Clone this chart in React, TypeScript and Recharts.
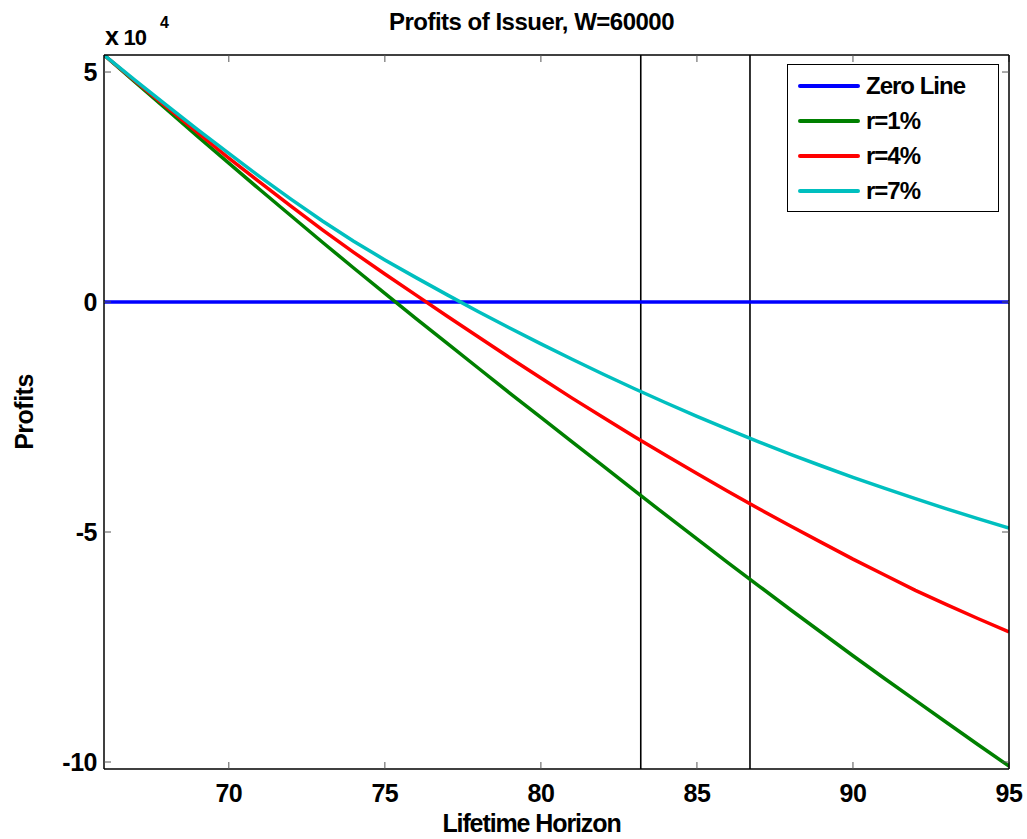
import { LineChart, Line, XAxis, YAxis, ReferenceLine, Legend, Label } from "recharts";

// lifetime horizon (years)
const years = [66, 67, 68, 69, 70, 71, 72, 73, 74, 75, 76, 77, 78, 79, 80, 81, 82, 83, 84, 85, 86, 87, 88, 89, 90, 91, 92, 93, 94, 95];

// profits in units of 10^4
const r1 = [5.37, 4.78, 4.19, 3.6, 3.02, 2.44, 1.87, 1.3, 0.74, 0.19, -0.36, -0.9, -1.44, -1.98, -2.51, -3.04, -3.57, -4.1, -4.63, -5.15, -5.67, -6.18, -6.69, -7.19, -7.69, -8.18, -8.66, -9.14, -9.62, -10.09];
const r4 = [5.37, 4.8, 4.24, 3.68, 3.13, 2.6, 2.08, 1.57, 1.08, 0.61, 0.15, -0.31, -0.76, -1.21, -1.65, -2.09, -2.51, -2.93, -3.33, -3.73, -4.12, -4.5, -4.87, -5.23, -5.59, -5.93, -6.27, -6.58, -6.88, -7.17];
const r7 = [5.37, 4.82, 4.28, 3.75, 3.23, 2.72, 2.23, 1.76, 1.32, 0.915, 0.53, 0.155, -0.21, -0.565, -0.91, -1.245, -1.57, -1.885, -2.19, -2.485, -2.77, -3.045, -3.31, -3.565, -3.81, -4.047, -4.276, -4.497, -4.71, -4.916];

const xTicks = [70, 75, 80, 85, 90, 95];
const yTicks = [-100000, -50000, 0, 50000];
const markers = [83.2, 86.7];

const data = years.map((y, i) => ({
  year: y,
  zero: 0,
  r1: r1[i] * 10000,
  r4: r4[i] * 10000,
  r7: r7[i] * 10000,
}));

const FONT = '"Liberation Sans", Arial, Helvetica, sans-serif';
const tickStyle = { fontSize: 25, fontWeight: 700, fill: "#000", fontFamily: FONT, letterSpacing: -0.5 };

function LegendBox({ payload }: any) {
  return (
    <div
      style={{
        width: 212,
        height: 148,
        border: "1.5px solid #000",
        background: "#fff",
        boxSizing: "border-box",
        paddingTop: 3,
        fontFamily: FONT,
      }}
    >
      {(payload || []).map((p: any) => (
        <div key={p.value} style={{ height: 35, display: "flex", alignItems: "center" }}>
          <div style={{ width: 62, height: 4, background: p.color, marginLeft: 10, borderRadius: 2 }} />
          <span style={{ marginLeft: 6, fontSize: 24, fontWeight: 700, letterSpacing: -1, color: "#000" }}>{p.value}</span>
        </div>
      ))}
    </div>
  );
}

export default function App() {
  return (
    <div style={{ position: "absolute", left: 0, top: 0, background: "#fff" }}>
      <LineChart width={1027} height={839} data={data} margin={{ top: 54, right: 17, bottom: 0, left: 0 }}>
        <XAxis
          xAxisId="top"
          orientation="top"
          dataKey="year"
          type="number"
          domain={[66, 95]}
          ticks={xTicks}
          height={1}
          tickFormatter={() => ""}
          tickSize={-7}
          stroke="#000"
          strokeWidth={1.5}
          tickLine={{ stroke: "#555", strokeWidth: 1 }}
          allowDataOverflow
        >
          <Label
            content={(props: any) => {
              const vb = props.viewBox || { x: 104, y: 54, width: 905 };
              return (
                <text x={vb.x + vb.width / 2 - 25} y={30} textAnchor="middle" fontSize={24} fontWeight={700} fontFamily={FONT} letterSpacing={-0.5} fill="#000">
                  Profits of Issuer, W=60000
                </text>
              );
            }}
          />
        </XAxis>
        <XAxis
          dataKey="year"
          type="number"
          domain={[66, 95]}
          ticks={xTicks}
          height={70}
          tick={tickStyle}
          tickSize={-7}
          tickMargin={22}
          stroke="#000"
          strokeWidth={1.5}
          tickLine={{ stroke: "#555", strokeWidth: 1 }}
          allowDataOverflow
        >
          <Label
            content={(props: any) => {
              const vb = props.viewBox || { x: 104, y: 769, width: 905 };
              return (
                <text x={vb.x + vb.width / 2 - 25} y={832} textAnchor="middle" fontSize={25} fontWeight={700} fontFamily={FONT} letterSpacing={-1.1} fill="#000">
                  Lifetime Horizon
                </text>
              );
            }}
          />
        </XAxis>
        <YAxis
          domain={[-101520, 53700]}
          ticks={yTicks}
          width={104}
          tick={tickStyle}
          tickFormatter={(v: number) => String(v / 10000)}
          tickSize={-7}
          tickMargin={14}
          stroke="#000"
          strokeWidth={1.5}
          tickLine={{ stroke: "#555", strokeWidth: 1 }}
          allowDataOverflow
        >
          <Label
            content={(props: any) => {
              const vb = props.viewBox || { x: 0, y: 55, width: 104, height: 714 };
              const cy = vb.y + vb.height / 2;
              return (
                <g>
                  <text x={33} y={cy} transform={`rotate(-90, 33, ${cy})`} textAnchor="middle" fontSize={25} fontWeight={700} fontFamily={FONT} letterSpacing={-0.5} fill="#000">
                    Profits
                  </text>
                  <text x={vb.x + vb.width + 1} y={45} fontSize={22} fontWeight={700} fontFamily={FONT} letterSpacing={-0.8} fill="#000">
                    <tspan fontSize={25}>x</tspan> 10
                  </text>
                  <text x={vb.x + vb.width + 56} y={28} fontSize={16} fontWeight={700} fontFamily={FONT} fill="#000">
                    4
                  </text>
                </g>
              );
            }}
          />
        </YAxis>
        <YAxis
          yAxisId="right"
          orientation="right"
          domain={[-101520, 53700]}
          ticks={yTicks}
          width={1}
          tickFormatter={() => ""}
          tickSize={-7}
          stroke="#000"
          strokeWidth={1.5}
          tickLine={{ stroke: "#555", strokeWidth: 1 }}
          allowDataOverflow
        />
        {markers.map((m) => (
          <ReferenceLine key={m} x={m} stroke="#000" strokeWidth={1.6} />
        ))}
        <Legend
          layout="vertical"
          verticalAlign="middle"
          align="center"
          wrapperStyle={{ top: 64, left: 787, width: 212, height: 148 }}
          content={LegendBox}
        />
        <Line dataKey="zero" name="Zero Line" stroke="#0000ff" strokeWidth={3.5} dot={false} isAnimationActive={false} />
        <Line dataKey="r1" name="r=1%" stroke="#008000" strokeWidth={3.5} dot={false} isAnimationActive={false} />
        <Line dataKey="r4" name="r=4%" stroke="#ff0000" strokeWidth={3.5} dot={false} isAnimationActive={false} />
        <Line dataKey="r7" name="r=7%" stroke="#00bfbf" strokeWidth={3.5} dot={false} isAnimationActive={false} />
      </LineChart>
    </div>
  );
}
